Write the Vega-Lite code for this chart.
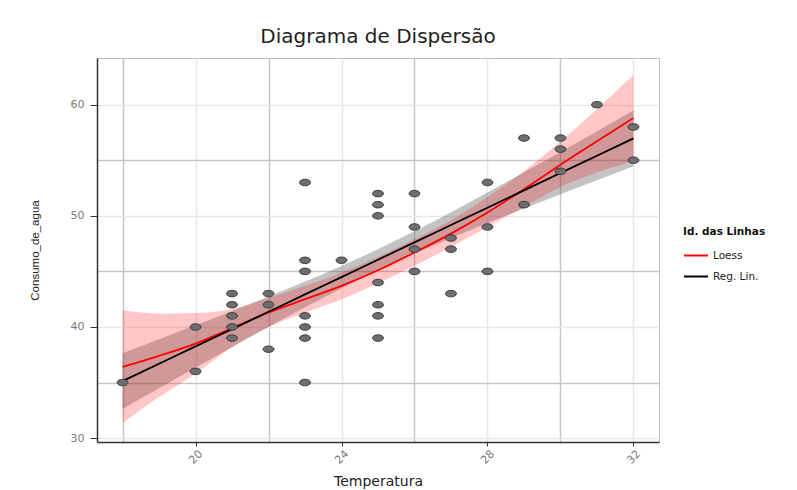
{
  "$schema": "https://vega.github.io/schema/vega-lite/v6.json",
  "width": 562,
  "height": 384,
  "autosize": {"type": "none"},
  "padding": {"left": 97, "top": 58, "right": 138, "bottom": 48},
  "background": "white",
  "title": {"text": "Diagrama de Dispersão", "font": "DejaVu Sans", "fontSize": 20, "fontWeight": "normal", "color": "#222222", "offset": 11, "anchor": "middle"},
  "datasets": {
    "pts": [
      {"Temperatura": 18, "Consumo_de_agua": 35},
      {"Temperatura": 20, "Consumo_de_agua": 40},
      {"Temperatura": 20, "Consumo_de_agua": 36},
      {"Temperatura": 21, "Consumo_de_agua": 43},
      {"Temperatura": 21, "Consumo_de_agua": 42},
      {"Temperatura": 21, "Consumo_de_agua": 41},
      {"Temperatura": 21, "Consumo_de_agua": 40},
      {"Temperatura": 21, "Consumo_de_agua": 39},
      {"Temperatura": 22, "Consumo_de_agua": 43},
      {"Temperatura": 22, "Consumo_de_agua": 42},
      {"Temperatura": 22, "Consumo_de_agua": 38},
      {"Temperatura": 23, "Consumo_de_agua": 53},
      {"Temperatura": 23, "Consumo_de_agua": 46},
      {"Temperatura": 23, "Consumo_de_agua": 45},
      {"Temperatura": 23, "Consumo_de_agua": 41},
      {"Temperatura": 23, "Consumo_de_agua": 40},
      {"Temperatura": 23, "Consumo_de_agua": 39},
      {"Temperatura": 23, "Consumo_de_agua": 35},
      {"Temperatura": 24, "Consumo_de_agua": 46},
      {"Temperatura": 25, "Consumo_de_agua": 52},
      {"Temperatura": 25, "Consumo_de_agua": 51},
      {"Temperatura": 25, "Consumo_de_agua": 50},
      {"Temperatura": 25, "Consumo_de_agua": 44},
      {"Temperatura": 25, "Consumo_de_agua": 42},
      {"Temperatura": 25, "Consumo_de_agua": 41},
      {"Temperatura": 25, "Consumo_de_agua": 39},
      {"Temperatura": 26, "Consumo_de_agua": 52},
      {"Temperatura": 26, "Consumo_de_agua": 49},
      {"Temperatura": 26, "Consumo_de_agua": 47},
      {"Temperatura": 26, "Consumo_de_agua": 45},
      {"Temperatura": 27, "Consumo_de_agua": 48},
      {"Temperatura": 27, "Consumo_de_agua": 47},
      {"Temperatura": 27, "Consumo_de_agua": 43},
      {"Temperatura": 28, "Consumo_de_agua": 53},
      {"Temperatura": 28, "Consumo_de_agua": 49},
      {"Temperatura": 28, "Consumo_de_agua": 45},
      {"Temperatura": 29, "Consumo_de_agua": 57},
      {"Temperatura": 29, "Consumo_de_agua": 51},
      {"Temperatura": 30, "Consumo_de_agua": 57},
      {"Temperatura": 30, "Consumo_de_agua": 56},
      {"Temperatura": 30, "Consumo_de_agua": 54},
      {"Temperatura": 31, "Consumo_de_agua": 60},
      {"Temperatura": 32, "Consumo_de_agua": 58},
      {"Temperatura": 32, "Consumo_de_agua": 55}
    ],
    "fits": [
      {"Temperatura": 18, "Linha": "Loess", "fit": 36.4, "lo": 31.35, "hi": 41.5},
      {"Temperatura": 19, "Linha": "Loess", "fit": 37.4, "lo": 33.7, "hi": 41.2},
      {"Temperatura": 20, "Linha": "Loess", "fit": 38.5, "lo": 35.8, "hi": 41.25},
      {"Temperatura": 21, "Linha": "Loess", "fit": 39.9, "lo": 38.2, "hi": 41.6},
      {"Temperatura": 22, "Linha": "Loess", "fit": 41.3, "lo": 40.0, "hi": 42.6},
      {"Temperatura": 23, "Linha": "Loess", "fit": 42.5, "lo": 41.3, "hi": 43.7},
      {"Temperatura": 24, "Linha": "Loess", "fit": 43.7, "lo": 42.5, "hi": 44.9},
      {"Temperatura": 25, "Linha": "Loess", "fit": 45.1, "lo": 43.9, "hi": 46.3},
      {"Temperatura": 26, "Linha": "Loess", "fit": 46.7, "lo": 45.5, "hi": 47.9},
      {"Temperatura": 27, "Linha": "Loess", "fit": 48.4, "lo": 47.2, "hi": 49.6},
      {"Temperatura": 28, "Linha": "Loess", "fit": 50.3, "lo": 49.0, "hi": 51.7},
      {"Temperatura": 29, "Linha": "Loess", "fit": 52.4, "lo": 50.8, "hi": 54.0},
      {"Temperatura": 30, "Linha": "Loess", "fit": 54.6, "lo": 52.6, "hi": 56.7},
      {"Temperatura": 31, "Linha": "Loess", "fit": 56.7, "lo": 53.9, "hi": 59.6},
      {"Temperatura": 32, "Linha": "Loess", "fit": 58.8, "lo": 54.9, "hi": 62.7},
      {"Temperatura": 18, "Linha": "Reg. Lin.", "fit": 35.13, "lo": 32.63, "hi": 37.63},
      {"Temperatura": 19, "Linha": "Reg. Lin.", "fit": 36.69, "lo": 34.49, "hi": 38.89},
      {"Temperatura": 20, "Linha": "Reg. Lin.", "fit": 38.25, "lo": 36.35, "hi": 40.15},
      {"Temperatura": 21, "Linha": "Reg. Lin.", "fit": 39.81, "lo": 38.18, "hi": 41.44},
      {"Temperatura": 22, "Linha": "Reg. Lin.", "fit": 41.37, "lo": 40.0, "hi": 42.74},
      {"Temperatura": 23, "Linha": "Reg. Lin.", "fit": 42.93, "lo": 41.77, "hi": 44.09},
      {"Temperatura": 24, "Linha": "Reg. Lin.", "fit": 44.49, "lo": 43.49, "hi": 45.49},
      {"Temperatura": 25, "Linha": "Reg. Lin.", "fit": 46.05, "lo": 45.1, "hi": 47.0},
      {"Temperatura": 26, "Linha": "Reg. Lin.", "fit": 47.61, "lo": 46.61, "hi": 48.61},
      {"Temperatura": 27, "Linha": "Reg. Lin.", "fit": 49.17, "lo": 48.01, "hi": 50.33},
      {"Temperatura": 28, "Linha": "Reg. Lin.", "fit": 50.73, "lo": 49.36, "hi": 52.1},
      {"Temperatura": 29, "Linha": "Reg. Lin.", "fit": 52.29, "lo": 50.66, "hi": 53.92},
      {"Temperatura": 30, "Linha": "Reg. Lin.", "fit": 53.85, "lo": 51.95, "hi": 55.75},
      {"Temperatura": 31, "Linha": "Reg. Lin.", "fit": 55.41, "lo": 53.21, "hi": 57.61},
      {"Temperatura": 32, "Linha": "Reg. Lin.", "fit": 56.97, "lo": 54.47, "hi": 59.47}
    ]
  },
  "resolve": {"axis": {"x": "independent", "y": "independent"}},
  "layer": [
    {
      "data": {"name": "fits"},
      "transform": [{"filter": {"field": "Linha", "equal": "Reg. Lin."}}],
      "mark": {"type": "area", "color": "#5a5a5a", "opacity": 0.36, "interpolate": "monotone"},
      "encoding": {
        "x": {
          "field": "Temperatura", "type": "quantitative",
          "scale": {"domain": [17.3, 32.7], "nice": false, "zero": false},
          "axis": {
            "orient": "bottom", "values": [20, 24, 28, 32], "grid": true,
            "gridColor": "#e8e8e8", "gridWidth": 1.5,
            "domainColor": "#333333", "domainWidth": 1.5,
            "tickColor": "#333333", "tickSize": 4, "tickWidth": 1,
            "labelAngle": -45, "labelAlign": "center", "labelBaseline": "middle", "labelPadding": 11,
            "labelFont": "DejaVu Sans", "labelFontSize": 11, "labelColor": "#7a7a7a",
            "title": "Temperatura", "titleFont": "DejaVu Sans", "titleFontSize": 14, "titleFontWeight": "normal",
            "titleColor": "#222222", "titleY": 39, "titleBaseline": "middle"
          }
        },
        "y": {
          "field": "lo", "type": "quantitative",
          "scale": {"domain": [29.65, 64.2], "nice": false, "zero": false},
          "axis": {
            "orient": "left", "values": [30, 40, 50, 60], "grid": true,
            "gridColor": "#e8e8e8", "gridWidth": 1.5,
            "domainColor": "#333333", "domainWidth": 1.5,
            "tickColor": "#333333", "tickSize": 7, "tickWidth": 1,
            "labelPadding": 6, "labelFont": "DejaVu Sans", "labelFontSize": 11, "labelColor": "#7a7a7a",
            "title": "Consumo_de_agua", "titleFont": "Liberation Sans", "titleFontSize": 11.5, "titleFontWeight": "normal",
            "titleColor": "#222222", "titleX": -62, "titleY": 192, "titleBaseline": "middle"
          }
        },
        "y2": {"field": "hi"}
      }
    },
    {
      "data": {"name": "fits"},
      "transform": [{"filter": {"field": "Linha", "equal": "Loess"}}],
      "mark": {"type": "area", "color": "#ff0000", "opacity": 0.22, "interpolate": "monotone"},
      "encoding": {
        "x": {
          "field": "Temperatura", "type": "quantitative",
          "axis": {
            "orient": "top", "values": [18, 22, 26, 30], "grid": true,
            "gridColor": "#c6c6c6", "gridWidth": 1.5,
            "labels": false, "ticks": false, "domain": false, "title": null
          }
        },
        "y": {
          "field": "lo", "type": "quantitative",
          "axis": {
            "orient": "right", "values": [35, 45, 55], "grid": true,
            "gridColor": "#c6c6c6", "gridWidth": 1.5,
            "labels": false, "ticks": false, "domain": false, "title": null
          }
        },
        "y2": {"field": "hi"}
      }
    },
    {
      "data": {"name": "fits"},
      "mark": {"type": "line", "strokeWidth": 1.8, "interpolate": "monotone"},
      "encoding": {
        "x": {"field": "Temperatura", "type": "quantitative", "axis": null},
        "y": {"field": "fit", "type": "quantitative", "axis": null},
        "stroke": {
          "field": "Linha", "type": "nominal",
          "scale": {"domain": ["Loess", "Reg. Lin."], "range": ["#ff0000", "#000000"]},
          "legend": {
            "title": "Id. das Linhas", "orient": "none", "legendX": 586, "legendY": 169,
            "symbolType": "stroke", "symbolSize": 576, "symbolStrokeWidth": 2,
            "titleFont": "DejaVu Sans", "titleFontSize": 10.5, "titleFontWeight": "bold", "titleColor": "#111111",
            "labelFont": "DejaVu Sans", "labelFontSize": 10.5, "labelColor": "#222222"
          }
        }
      }
    },
    {
      "data": {"name": "pts"},
      "mark": {
        "type": "point", "filled": true, "fill": "#6e6e6e", "stroke": "#2b2b2b", "strokeWidth": 0.8, "opacity": 1,
        "shape": "M -1 0 C -1 -0.331 -0.552 -0.6 0 -0.6 C 0.552 -0.6 1 -0.331 1 0 C 1 0.331 0.552 0.6 0 0.6 C -0.552 0.6 -1 0.331 -1 0 Z",
        "size": 121
      },
      "encoding": {
        "x": {"field": "Temperatura", "type": "quantitative", "axis": null},
        "y": {"field": "Consumo_de_agua", "type": "quantitative", "axis": null}
      }
    }
  ],
  "config": {
    "view": {"stroke": "#bdbdbd", "strokeWidth": 1}
  }
}
